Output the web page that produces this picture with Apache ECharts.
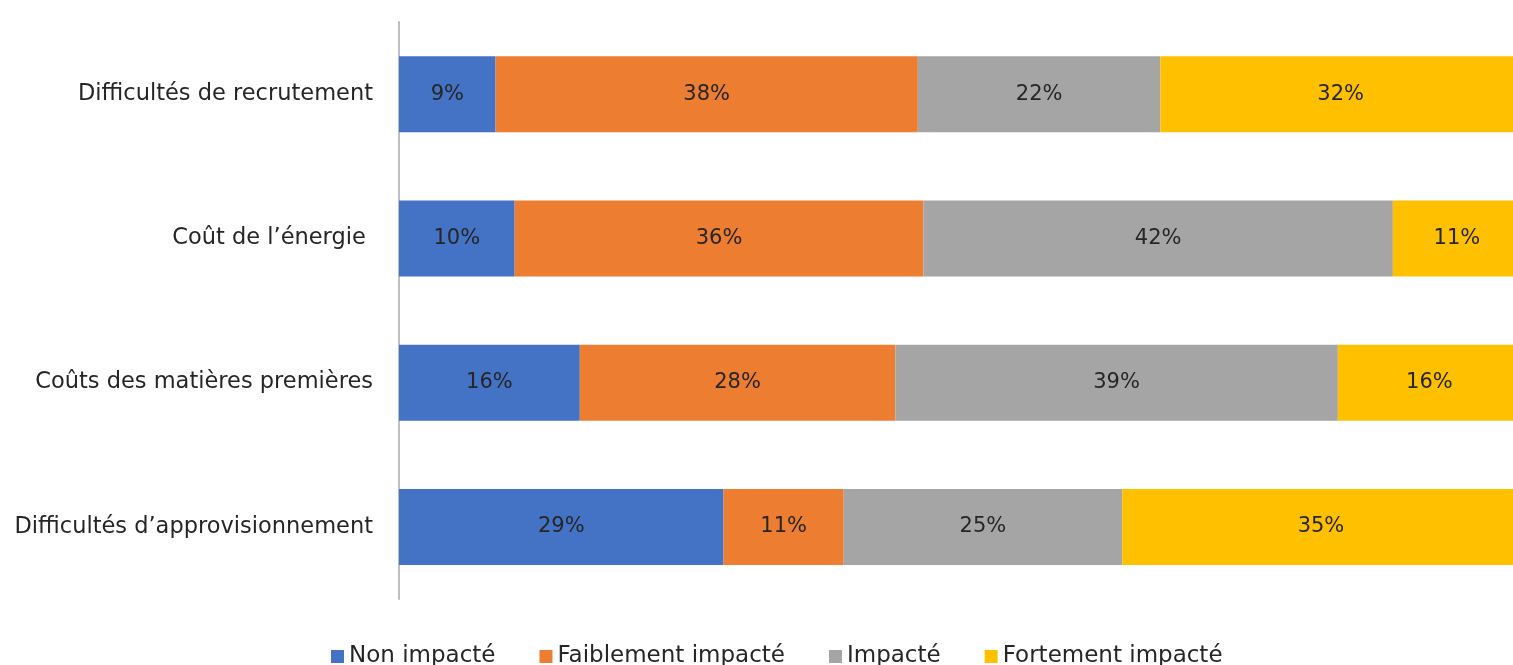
<!DOCTYPE html>
<html lang="fr">
	<head>
		<meta charset="utf-8" />
		<title>Impact des difficultés</title>
		<style>
			html, body { margin: 0; padding: 0; background: #fff; overflow: hidden; }
			#chart { width: 1513px; height: 665px; }
		</style>
	</head>
	<body>
		<div id="chart"></div>
		<script type="text/javascript" src="https://cdn.jsdelivr.net/npm/echarts@6/dist/echarts.min.js"></script>
		<script type="text/javascript">
			// catégories (de haut en bas)
			const categories = ['Difficultés de recrutement', 'Coût de l\u2019énergie ', 'Coûts des matières premières', 'Difficultés d\u2019approvisionnement'];
			// séries en %
			const nonImpacte = [8.6, 10.3, 16.1, 28.9];
			const faiblement = [37.6, 36.4, 28.1, 10.7];
			const impacte = [21.6, 41.8, 39.4, 24.8];
			const fortement = [32.1, 11.4, 16.3, 35.4];

			const seriesNames = ['Non impacté', 'Faiblement impacté', 'Impacté', 'Fortement impacté'];
			const seriesData = [nonImpacte, faiblement, impacte, fortement];
			const colors = ['#4472C4', '#ED7D31', '#A5A5A5', '#FFC000'];

			const chart = echarts.init(document.getElementById('chart'));
			const font = '"DejaVu Sans", Verdana, sans-serif';

			const option = {
				animation: false,
				color: colors,
				textStyle: { fontFamily: font },
				grid: {
					left: 399,
					width: 1123,
					top: 22,
					bottom: 66,
					outerBoundsMode: 'none' // le graphique dépasse à droite comme dans l'original
				},
				legend: {
					left: 326,
					bottom: -8,
					itemWidth: 13,
					itemHeight: 13,
					itemGap: 44,
					icon: 'rect',
					textStyle: { fontSize: 23, color: '#262626', fontFamily: font },
					data: seriesNames
				},
				xAxis: {
					type: 'value',
					min: 0,
					max: 100,
					show: false
				},
				yAxis: {
					type: 'category',
					inverse: true,
					data: categories,
					axisLine: { show: true, lineStyle: { color: '#bfbfbf', width: 2 } },
					axisTick: { show: false },
					axisLabel: { margin: 26, fontSize: 22.5, color: '#262626', fontFamily: font }
				},
				series: seriesNames.map(function(name, i) {
					return {
						name: name,
						type: 'bar',
						stack: 'total',
						barWidth: 76,
						data: seriesData[i],
						label: {
							show: true,
							position: 'inside',
							fontSize: 21,
							color: '#262626',
							fontFamily: font,
							formatter: function(p) { return Math.round(p.value) + '%'; }
						}
					};
				})
			};
			chart.setOption(option);
		</script>
	</body>
</html>
